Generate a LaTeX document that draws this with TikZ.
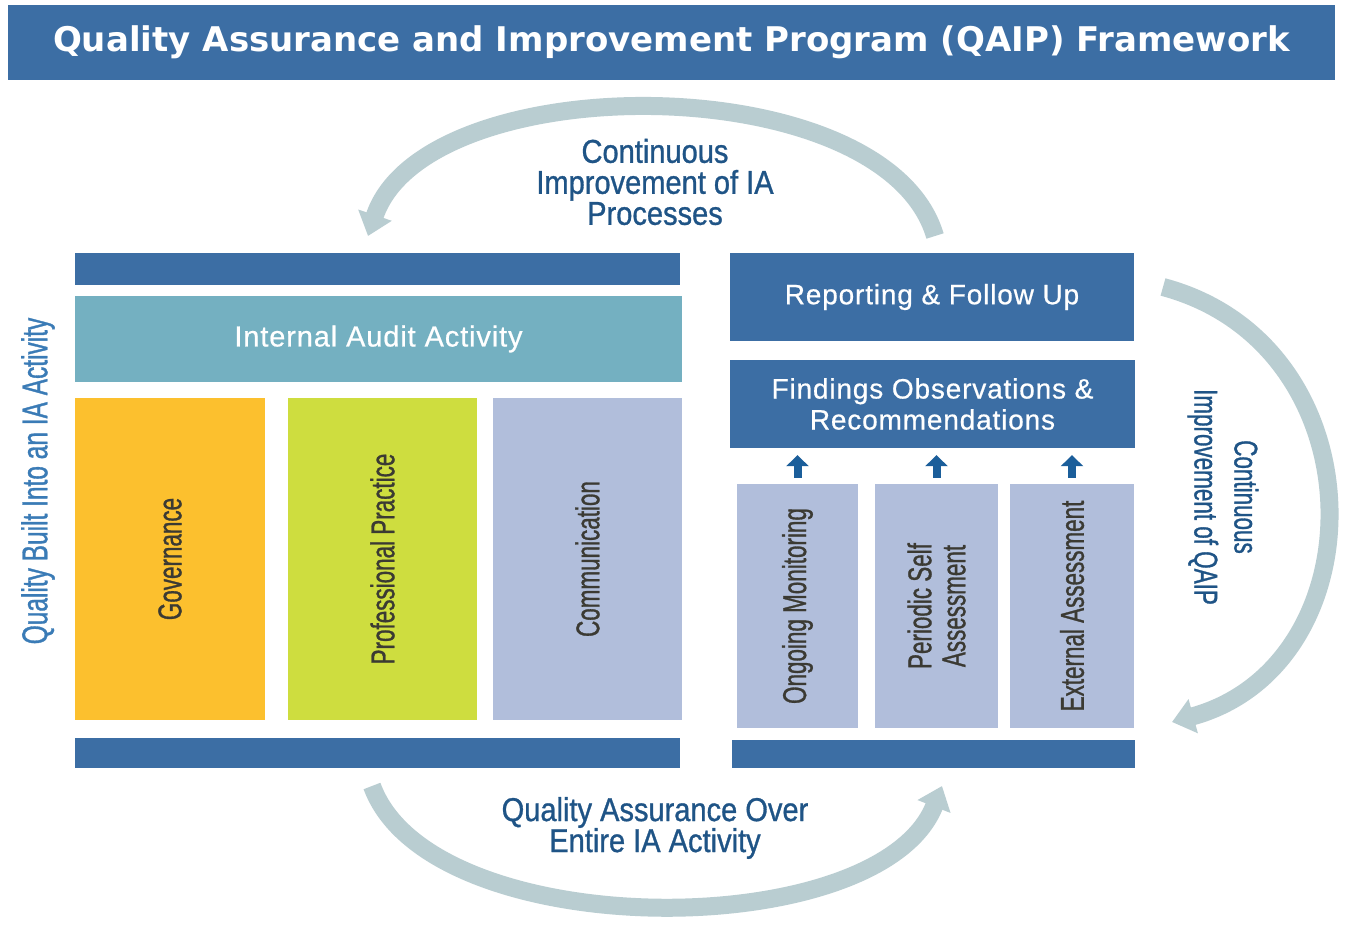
\documentclass[tikz,border=0pt]{standalone}
\usepackage{fontspec}
\usetikzlibrary{arrows.meta}
\newfontfamily\titlefont{DejaVu Sans}
\newfontfamily\whitefont[LetterSpace=3,FakeBold=0.6]{Liberation Sans}
\newfontfamily\narrowfont[FakeStretch=0.68,FakeBold=0.9]{Liberation Sans}
\newfontfamily\arcfont[FakeStretch=0.88,FakeBold=0.9]{Liberation Sans}
\definecolor{qblue}{HTML}{3C6EA4}
\definecolor{qteal}{HTML}{74B0C1}
\definecolor{qgold}{HTML}{FCC02E}
\definecolor{qlime}{HTML}{CEDD3F}
\definecolor{qlav}{HTML}{B1BEDB}
\definecolor{qarc}{HTML}{B9CDD1}
\definecolor{qtext}{HTML}{1F5486}
\definecolor{qside}{HTML}{3A7BB6}
\definecolor{qdark}{HTML}{3B3A33}
\definecolor{qarrow}{HTML}{1B5E9A}
\tikzset{
	bar/.style={fill=qblue, inner sep=0pt, text=white},
	block/.style={inner sep=0pt},
	darklabel/.style={rotate=90, text=qdark, font=\narrowfont\fontsize{33}{34}\selectfont, align=center},
	whitelabel/.style={text=white, font=\whitefont\fontsize{28}{31}\selectfont, align=center},
	arctext/.style={text=qtext, font=\arcfont\fontsize{33}{31}\selectfont, align=center},
	cycle/.style={draw=qarc, line width=18pt, -{Triangle[width=34pt,length=22pt]}},
	uparrow/.style={draw=qarrow, line width=8pt, -{Triangle[width=22pt,length=11pt]}, shorten <=6pt, shorten >=7pt}
}
\begin{document}
\begin{tikzpicture}[x=1pt,y=-1pt]
	\useasboundingbox[fill=white] (0,0) rectangle (1347,939);
	% title
	\node[bar, minimum width=1327pt, minimum height=75pt] (title) at (671.5,42.5) {\titlefont\bfseries\fontsize{34}{34}\selectfont Quality Assurance and Improvement Program (QAIP) Framework};
	% left block
	\node[bar, minimum width=605pt, minimum height=32pt] (topbarL) at (377.5,269) {};
	\node[block, fill=qteal, minimum width=607pt, minimum height=86pt] (iaa) at (378.5,339) {};
	\node[whitelabel, font=\whitefont\fontsize{29}{31}\selectfont] at (iaa) {Internal Audit Activity};
	\node[block, fill=qgold, minimum width=190pt, minimum height=322pt] (gov) at (170,559) {};
	\node[block, fill=qlime, minimum width=189pt, minimum height=322pt] (pp) at (382.5,559) {};
	\node[block, fill=qlav, minimum width=189pt, minimum height=322pt] (comm) at (587.5,559) {};
	\node[darklabel] at (gov) {Governance};
	\node[darklabel] at (pp) {Professional Practice};
	\node[darklabel] at (comm) {Communication};
	\node[bar, minimum width=605pt, minimum height=30pt] (botbarL) at (377.5,753) {};
	% right block
	\node[bar, minimum width=404pt, minimum height=88pt] (rep) at (932,297) {};
	\node[whitelabel] at (rep) {Reporting \& Follow Up};
	\node[bar, minimum width=405pt, minimum height=88pt] (find) at (932.5,404) {};
	\node[whitelabel] at (find) {Findings Observations \&\\Recommendations};
	\node[block, fill=qlav, minimum width=121pt, minimum height=244pt] (om) at (797.5,606) {};
	\node[block, fill=qlav, minimum width=123pt, minimum height=244pt] (psa) at (936.5,606) {};
	\node[block, fill=qlav, minimum width=124pt, minimum height=244pt] (ea) at (1072,606) {};
	\node[darklabel] at (om) {Ongoing Monitoring};
	\node[darklabel] at (psa) {Periodic Self\\Assessment};
	\node[darklabel] at (ea) {External Assessment};
	\node[bar, minimum width=403pt, minimum height=28pt] (botbarR) at (933.5,754) {};
	\draw[uparrow] (om.north) -- (om.north |- find.south);
	\draw[uparrow] (psa.north) -- (psa.north |- find.south);
	\draw[uparrow] (ea.north) -- (ea.north |- find.south);
	% side texts
	\node[rotate=90, text=qside, font=\narrowfont\fontsize{36}{36}\selectfont] (built) at (38,481) {Quality Built Into an IA Activity};
	\node[arctext, rotate=-90, font=\narrowfont\fontsize{33}{40}\selectfont] (qaiptext) at (1223,497) {Continuous\\Improvement of QAIP};
	\node[arctext] (iatext) at (655,182) {Continuous\\Improvement of IA\\Processes};
	\node[arctext] (qatext) at (655,828) {Quality Assurance Over\\Entire IA Activity};
	% cycle arrows
	\coordinate (topR) at (935,236);
	\coordinate (topL) at (368,236);
	\coordinate (sideT) at (1163,287);
	\coordinate (sideB) at (1172,722);
	\coordinate (botL) at (372,786);
	\coordinate (botR) at (942,786);
	\draw[cycle] (topR) .. controls (885,66) and (425,66) .. (topL);
	\draw[cycle] (sideT) .. controls (1380,345) and (1380,665) .. (sideB);
	\draw[cycle] (botL) .. controls (430,945) and (880,945) .. (botR);
\end{tikzpicture}
\end{document}
